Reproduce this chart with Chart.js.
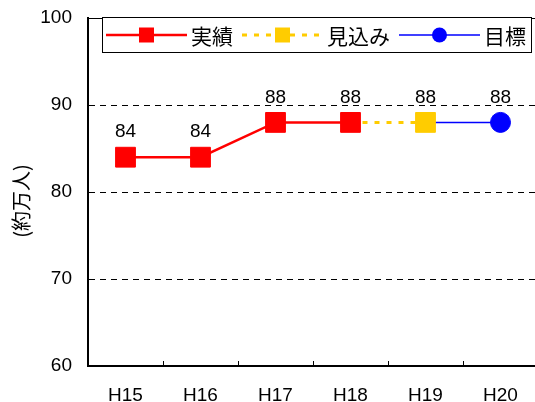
<!DOCTYPE html>
<html>
<head>
<meta charset="utf-8">
<script src="https://cdn.jsdelivr.net/npm/chart.js@4"></script>
<style>
  html, body { margin: 0; padding: 0; background: #fff; overflow: hidden; }
  #wrap { width: 540px; height: 402px; }
</style>
</head>
<body>
<div id="wrap"><canvas id="chart" width="540" height="402"></canvas></div>
<script>
const FONT = "'Liberation Sans', 'Noto Sans CJK JP', Arial, sans-serif";
const CJK = "'Noto Sans CJK JP', 'Liberation Sans', sans-serif";

const categories = ["H15", "H16", "H17", "H18", "H19", "H20"];
const actual = [84, 84, 88, 88, null, null];    // 実績
const forecast = [null, null, null, 88, 88, null]; // 見込み
const target = [null, null, null, null, 88, 88];   // 目標
const yTicks = { min: 60, max: 100, step: 10 };
const yTitle = "(約万人)";

// top border of the plot area + rotated axis title
const frame = {
    id: "frame",
    beforeDatasetsDraw(chart) {
        const { ctx, chartArea: a } = chart;
        ctx.save();
        ctx.strokeStyle = "#000";
        ctx.lineWidth = 1;
        ctx.beginPath();
        ctx.moveTo(a.left, a.top + 0.5);
        ctx.lineTo(a.right, a.top + 0.5);
        ctx.stroke();
        ctx.translate(21, 201);
        ctx.rotate(-Math.PI / 2);
        ctx.font = "20px " + CJK;
        ctx.fillStyle = "#000";
        ctx.textAlign = "center";
        ctx.textBaseline = "middle";
        ctx.fillText(yTitle, 0, 0);
        ctx.restore();
    },
};

// value labels above the drawn markers
const valueLabels = {
    id: "valueLabels",
    afterDatasetsDraw(chart) {
        const ctx = chart.ctx;
        ctx.save();
        ctx.font = "19px " + FONT;
        ctx.fillStyle = "#000";
        ctx.textAlign = "center";
        ctx.textBaseline = "middle";
        chart.data.datasets.forEach((ds, i) => {
            chart.getDatasetMeta(i).data.forEach((pt, j) => {
                if (ds.data[j] == null || !pt.options.radius) return;
                ctx.fillText(String(ds.data[j]), pt.x, pt.y - 25);
            });
        });
        ctx.restore();
    },
};

// legend box: line + marker + text, like the spreadsheet legend
const lineLegend = {
    id: "lineLegend",
    afterDraw(chart) {
        const { ctx, chartArea: a } = chart;
        const box = { x: 102, y: a.top - 1, w: 429, h: 35 };
        ctx.save();
        ctx.fillStyle = "#fff";
        ctx.fillRect(box.x, box.y, box.w, box.h);
        ctx.strokeStyle = "#000";
        ctx.lineWidth = 1;
        ctx.strokeRect(box.x + 0.5, box.y + 0.5, box.w, box.h);
        const cy = box.y + box.h / 2 + 0.5;
        let x = box.x + 4;
        ctx.font = "21px " + CJK;
        ctx.textBaseline = "middle";
        chart.data.datasets.forEach((ds) => {
            ctx.strokeStyle = ds.borderColor;
            ctx.lineWidth = ds.borderWidth;
            ctx.setLineDash(ds.borderDash || []);
            ctx.beginPath();
            ctx.moveTo(x, cy);
            ctx.lineTo(x + 81, cy);
            ctx.stroke();
            ctx.setLineDash([]);
            ctx.fillStyle = ds.pointBackgroundColor;
            ctx.beginPath();
            if (ds.pointStyle === "circle") ctx.arc(x + 40.5, cy, 7.5, 0, Math.PI * 2);
            else ctx.rect(x + 33, cy - 7.5, 15, 15);
            ctx.fill();
            ctx.fillStyle = "#000";
            ctx.fillText(ds.label, x + 85, cy + 1);
            x += 85 + ctx.measureText(ds.label).width + 9;
        });
        ctx.restore();
    },
};

new Chart(document.getElementById("chart"), {
    type: "line",
    data: {
        labels: categories,
        datasets: [
            {
                label: "実績",
                data: actual,
                borderColor: "#ff0000",
                borderWidth: 2.5,
                pointStyle: "rect",
                pointRadius: 14,
                pointBorderWidth: 1,
                pointBackgroundColor: "#ff0000",
                pointBorderColor: "#ff0000",
            },
            {
                label: "見込み",
                data: forecast,
                borderColor: "#ffcc00",
                borderWidth: 3,
                borderDash: [5, 7],
                pointStyle: "rect",
                pointRadius: (c) => (c.dataIndex === 4 ? 14 : 0),
                pointBorderWidth: 1,
                pointBackgroundColor: "#ffcc00",
                pointBorderColor: "#ffcc00",
            },
            {
                label: "目標",
                data: target,
                borderColor: "#0000ff",
                borderWidth: 1.5,
                pointStyle: "circle",
                pointRadius: (c) => (c.dataIndex === 5 ? 10 : 0),
                pointBorderWidth: 1,
                pointBackgroundColor: "#0000ff",
                pointBorderColor: "#0000ff",
            },
        ],
    },
    options: {
        responsive: false,
        animation: false,
        events: [],
        layout: { autoPadding: false, padding: { top: 18, right: 2, left: 0, bottom: 0 } },
        plugins: { legend: { display: false }, tooltip: { enabled: false } },
        scales: {
            x: {
                type: "category",
                offset: true,
                afterFit: (s) => { s.height = 36; s.paddingLeft = 0; s.paddingRight = 0; },
                grid: {
                    offset: true,
                    drawOnChartArea: false,
                    drawTicks: true,
                    tickLength: -5,
                    tickColor: "#000",
                    tickWidth: 1,
                },
                border: { color: "#000", width: 2 },
                ticks: { color: "#000", font: { family: FONT, size: 19 }, padding: 23, maxRotation: 0 },
            },
            y: {
                min: yTicks.min,
                max: yTicks.max,
                afterFit: (s) => { s.width = 88; s.paddingTop = 0; s.paddingBottom = 0; },
                grid: {
                    drawTicks: false,
                    color: (c) => (c.tick && c.tick.value > yTicks.min && c.tick.value < yTicks.max ? "#000" : "transparent"),
                    lineWidth: 1,
                },
                border: { color: "#000", width: 2, dash: [6, 5] },
                ticks: { stepSize: yTicks.step, color: "#000", font: { family: FONT, size: 19 }, padding: 16 },
            },
        },
    },
    plugins: [frame, valueLabels, lineLegend],
});
</script>
</body>
</html>
